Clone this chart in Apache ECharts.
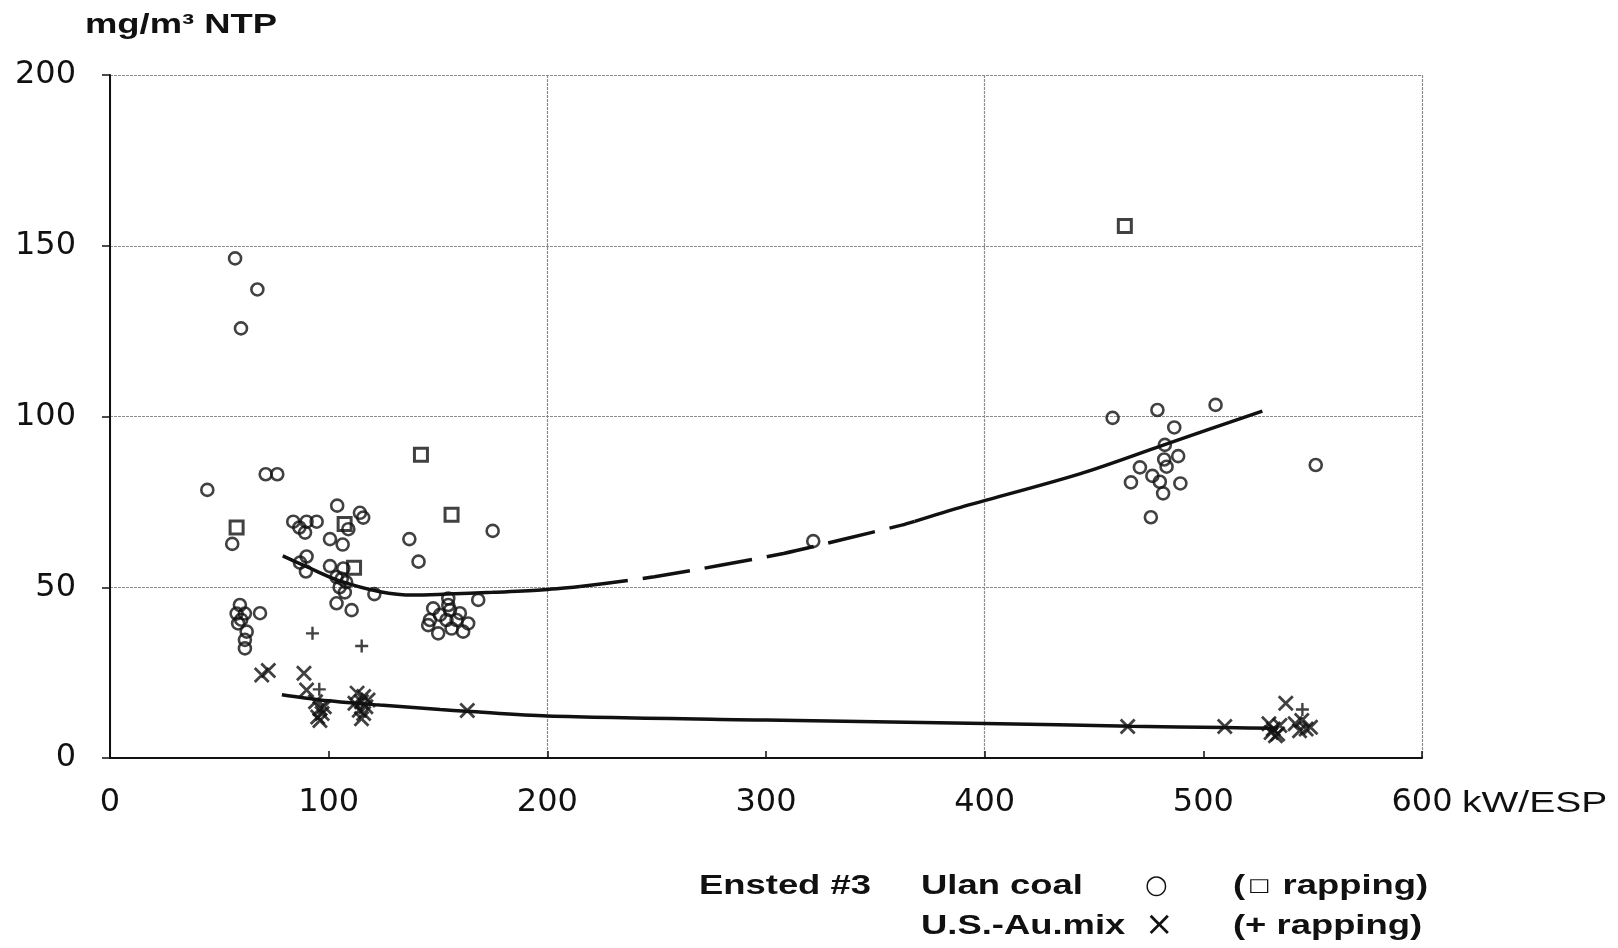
<!DOCTYPE html>
<html>
<head>
<meta charset="utf-8">
<script src="https://cdn.jsdelivr.net/npm/echarts@6/dist/echarts.min.js"></script>
<style>
  html, body { margin: 0; background: #fff; }
  #chart { width: 1618px; height: 948px; }
</style>
</head>
<body>
<div id="chart"></div>
<script>
// Ensted #3: dust emission (mg/m3 NTP) vs ESP power (kW/ESP), two coals,
// normal points and rapping points, plus the two hand-drawn fit curves.

const xTicks = [0, 100, 200, 300, 400, 500, 600]
const yTicks = [0, 50, 100, 150, 200]

// Ulan coal, circles
const ulanCoal = [
  [57.2, 146.3], [67.4, 137.2], [59.9, 125.8],
  [44.5, 78.5], [71.2, 83.1], [76.5, 83.1], [55.9, 62.7],
  [83.8, 69.2], [86.6, 67.5], [89.9, 69.2], [94.5, 69.2], [89.2, 66.0],
  [103.9, 73.9], [109, 67.0], [114.3, 71.8], [115.8, 70.4],
  [100.6, 64.1], [106.4, 62.5], [136.9, 64.1], [141.1, 57.5],
  [89.9, 59.0], [86.9, 57.2], [89.6, 54.6], [100.6, 56.2], [106.7, 55.5],
  [103.6, 53.0], [108, 51.5], [105, 50.0], [107.4, 48.5], [106, 52.5],
  [120.9, 48.0], [103.6, 45.3], [110.5, 43.3],
  [59.4, 44.8], [57.9, 42.3], [61.7, 42.3], [58.6, 39.4], [62.5, 37.0],
  [61.7, 34.6], [61.7, 32.1], [60, 40.5], [68.6, 42.4],
  [175, 66.5], [154.7, 46.7], [168.4, 46.3], [154.7, 44.8],
  [147.8, 43.8], [146.3, 40.4], [150.9, 41.9], [155.5, 43.3], [160, 42.4],
  [163.8, 39.4], [161.5, 37.0], [150.1, 36.5], [156.2, 37.9], [153.9, 40.4],
  [158.5, 40.4], [145.5, 38.9],
  [321.6, 63.5],
  [458.5, 99.6], [479, 101.9], [505.6, 103.4], [486.7, 96.8], [482.4, 91.7],
  [488.5, 88.4], [482.1, 87.4], [483.2, 85.3], [471, 85.1], [476.7, 82.6],
  [480.1, 80.9], [466.9, 80.7], [489.5, 80.4], [481.6, 77.5], [476, 70.5],
  [551.4, 85.8]
]

// Ulan coal during rapping, squares
const ulanRapping = [
  [57.9, 67.5], [107.3, 68.5], [111.6, 55.7], [142.2, 88.8], [156.2, 71.2], [464.1, 155.8]
]

// U.S.-Au. mix, crosses
const usAuMix = [
  [69.4, 24.3], [72.4, 25.6], [88.7, 24.8], [89.9, 19.9],
  [94, 16.5], [96, 14.5], [97, 13.0], [95, 12.0], [98, 15.0], [96, 11.0],
  [113, 19.0], [116, 18.0], [115, 16.5], [117, 15.0], [114, 14.0],
  [116, 13.0], [118, 17.0], [115, 11.5], [112, 16.0],
  [163.4, 13.9], [465.4, 9.2], [509.8, 9.2], [537.7, 16.0],
  [530, 10.0], [532, 8.5], [534, 7.0], [531, 7.5], [535, 9.5], [533, 6.5],
  [542, 10.0], [545, 11.0], [547, 8.5], [544, 8.0], [549, 9.0]
]

// U.S.-Au. mix during rapping, plus signs
const usAuRapping = [
  [92.6, 36.5], [115.1, 32.8], [95.7, 20.1], [545.3, 14.2]
]

// fit curves
const ulanFitA = [[79, 59.2], [90, 56.0], [104, 52.1], [123.5, 48.7], [139, 47.7], [154, 48.0], [175, 48.5], [197, 49.2], [215, 50.2]]
const ulanFitDash = [[215, 50.2], [249, 53.1], [308, 59.9], [335, 64.0], [362, 68.2], [368, 69.3]]
const ulanFitB = [[368, 69.3], [389, 73.4], [443.5, 83.2], [482, 91.7], [527, 101.6]]
const usAuFit = [[78.6, 18.5], [96, 17.0], [123.5, 15.5], [151, 14.2], [163, 13.7], [200, 12.3], [300, 11.1], [400, 10.1], [467, 9.3], [510, 8.9], [534, 8.7]]

const INK = '#111'
const GRIDC = '#8c8c8c'
const BOLD = 'bold 28px "Liberation Sans", Arial, sans-serif'
const REG = '30px "Liberation Sans", Arial, sans-serif'
const SQ = 1.3   // the scan is stretched sideways

const X_PATH = 'path://M0,0L10,10M10,0L0,10'
const PLUS_PATH = 'path://M5,0L5,10M0,5L10,5'

function fit(data, dashed) {
  return {
    type: 'line', data, symbol: 'none', smooth: 0.3, silent: true, z: 1,
    lineStyle: { color: INK, width: 3.5, type: dashed ? [48, 15] : 'solid' }
  }
}

function label(text, x, y, font, scale) {
  return {
    type: 'text', x, y, scaleX: scale, silent: true,
    style: { text, font, fill: INK, textAlign: 'left', textVerticalAlign: 'middle' }
  }
}

const chart = echarts.init(document.getElementById('chart'))
chart.setOption({
  animation: false,
  backgroundColor: '#fff',
  grid: { left: 110, right: 196, top: 75, bottom: 190 },
  xAxis: [
    {
      type: 'value', min: xTicks[0], max: xTicks[xTicks.length - 1], interval: 100,
      axisLine: { lineStyle: { color: INK, width: 2 } },
      axisTick: { show: true, inside: true, length: 7, lineStyle: { color: INK, width: 1.5 } },
      axisLabel: { color: INK, fontFamily: 'DejaVu Sans', fontSize: 32, margin: 29 },
      splitLine: { show: false }
    },
    {
      // only for the vertical grid every 200
      type: 'value', min: 0, max: 600, interval: 200, position: 'bottom',
      axisLine: { show: false }, axisTick: { show: false }, axisLabel: { show: false },
      splitLine: { show: true, lineStyle: { color: GRIDC, width: 1.2, type: [3, 1] } }
    }
  ],
  yAxis: {
    type: 'value', min: yTicks[0], max: yTicks[yTicks.length - 1], interval: 50,
    axisLine: { show: true, lineStyle: { color: INK, width: 2 } },
    axisTick: { show: true, length: 8, lineStyle: { color: INK, width: 1.5 } },
    axisLabel: { color: INK, fontFamily: 'DejaVu Sans', fontSize: 32, margin: 34 },
    splitLine: { show: true, lineStyle: { color: GRIDC, width: 1.2, type: [3, 1] } }
  },
  series: [
    fit(ulanFitA, false), fit(ulanFitDash, true), fit(ulanFitB, false), fit(usAuFit, false),
    {
      type: 'scatter', data: ulanCoal, symbol: 'circle', symbolSize: 12, z: 3,
      itemStyle: { color: 'rgba(255,255,255,0)', borderColor: INK, borderWidth: 2.6 }
    },
    {
      type: 'scatter', data: ulanRapping, symbol: 'rect', symbolSize: 13, z: 3,
      itemStyle: { color: 'rgba(255,255,255,0)', borderColor: INK, borderWidth: 3 }
    },
    {
      type: 'scatter', data: usAuMix, symbol: X_PATH, symbolSize: 14, z: 3,
      itemStyle: { color: 'rgba(255,255,255,0)', borderColor: INK, borderWidth: 2.8 }
    },
    {
      type: 'scatter', data: usAuRapping, symbol: PLUS_PATH, symbolSize: 13, z: 3,
      itemStyle: { color: 'rgba(255,255,255,0)', borderColor: INK, borderWidth: 2.4 }
    }
  ],
  graphic: [
    label('mg/m³ NTP', 85, 25, BOLD, SQ),
    label('kW/ESP', 1462, 804, REG, SQ),
    label('Ensted #3', 699, 886, BOLD, SQ),
    label('Ulan coal', 921, 886, BOLD, SQ),
    label('○', 1145, 886, '26px "DejaVu Sans"', 1),
    {
      type: 'text', x: 1233, y: 886, scaleX: SQ, silent: true,
      style: {
        text: '{p|(}{s|□}{p| rapping)}', textAlign: 'left', textVerticalAlign: 'middle',
        rich: {
          p: { font: BOLD, fill: INK },
          s: { font: '18px "DejaVu Sans"', fill: INK, padding: [0, 2, 0, 2] }
        }
      }
    },
    label('U.S.-Au.mix', 921, 926, BOLD, SQ),
    label('×', 1145, 926, '34px "DejaVu Sans"', 1),
    label('(+ rapping)', 1233, 926, BOLD, SQ)
  ]
})
</script>
</body>
</html>
